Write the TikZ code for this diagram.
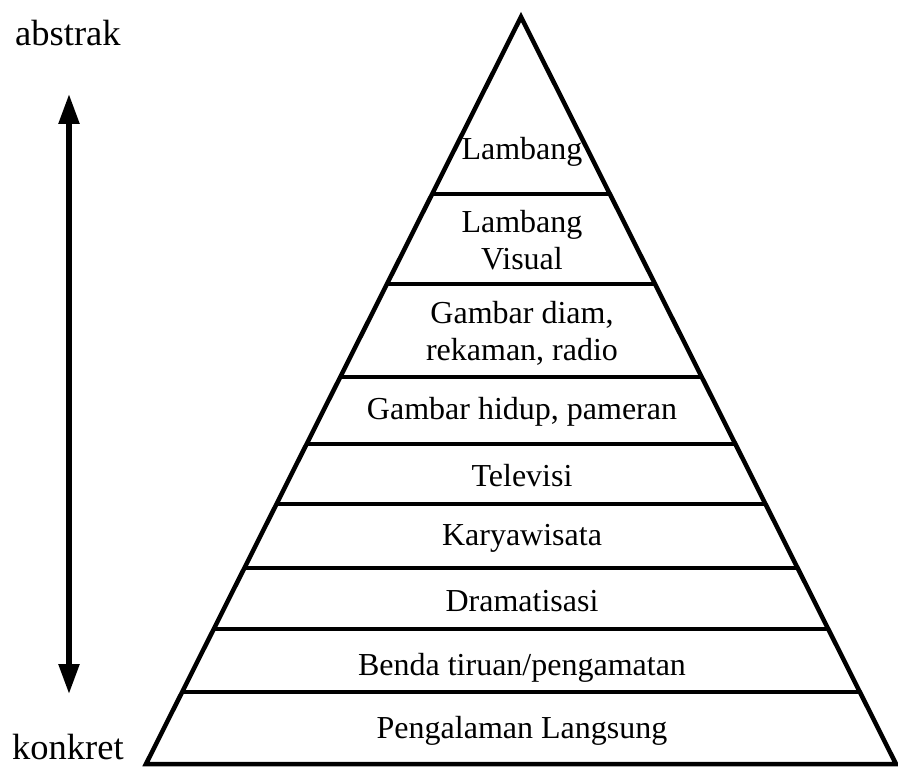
\documentclass[tikz,border=0pt]{standalone}
\usepackage{fontspec}
\setmainfont{Liberation Serif}
\usetikzlibrary{arrows.meta,calc}
\tikzset{
  edge/.style  ={line width=4.5pt, line join=miter},
  band/.style  ={font=\fontsize{32}{37}\selectfont, align=center, inner sep=0pt, anchor=base},
  side/.style  ={font=\fontsize{36.5}{40}\selectfont, inner sep=0pt, anchor=base west},
  updown/.style={{Triangle[length=30pt,width=20pt]}-{Triangle[length=30pt,width=20pt]}, line width=5.5pt}
}

\begin{document}
\begin{tikzpicture}[x=1pt, y=-1pt]
  \useasboundingbox (0,0) rectangle (898,767);
  \coordinate (apex) at (521,17);
  \coordinate (bl)   at (146,764);
  \coordinate (br)   at (896,764);
  \draw[edge] (apex) -- (bl) -- (br) -- cycle;
  \foreach \y in {194,284,377,444,504,568,629,692}
    \draw[edge] ($(apex)!{(\y-17)/747}!(bl)$) -- ($(apex)!{(\y-17)/747}!(br)$);
  \node[band] (lambang)  at (522,160) {Lambang};
  \node[band] (visual)   at (522,270) {Lambang\\Visual};
  \node[band] (diam)     at (522,361) {Gambar diam,\\rekaman, radio};
  \node[band] (hidup)    at (522,420) {Gambar hidup, pameran};
  \node[band] (tv)       at (522,486) {Televisi};
  \node[band] (wisata)   at (522,546) {Karyawisata};
  \node[band] (drama)    at (522,611) {Dramatisasi};
  \node[band] (tiruan)   at (522,675) {Benda tiruan/pengamatan};
  \node[band] (langsung) at (522,738) {Pengalaman Langsung};
  \node[side] (abstrak) at (15,46)  {abstrak};
  \node[side] (konkret) at (12,759) {konkret};
  \coordinate (hi) at (69,94);
  \coordinate (lo) at (69,694);
  \draw[updown] (lo) -- (hi);
\end{tikzpicture}
\end{document}
